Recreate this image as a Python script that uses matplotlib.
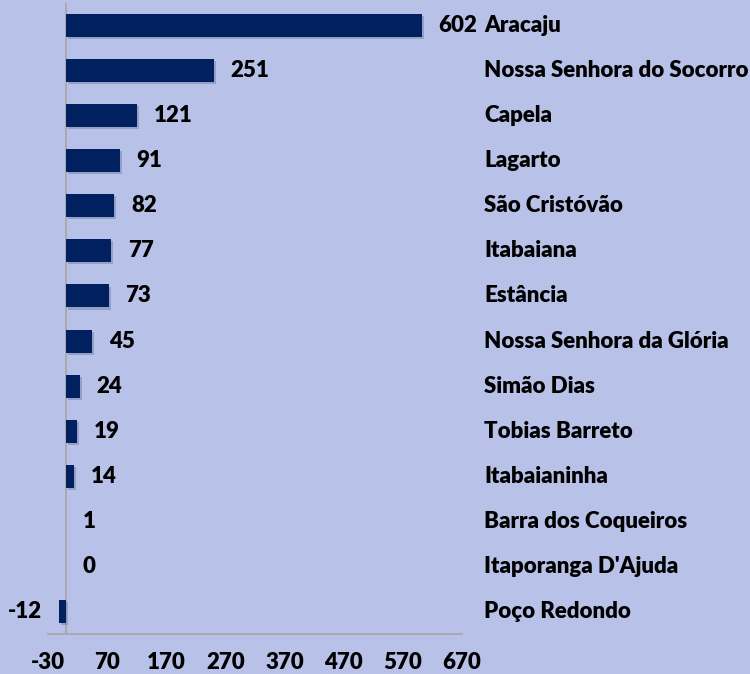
import matplotlib
matplotlib.use("Agg")
import matplotlib.pyplot as plt
import matplotlib.patheffects as pe

categories = ["Aracaju", "Nossa Senhora do Socorro", "Capela", "Lagarto", "São Cristóvão",
              "Itabaiana", "Estância", "Nossa Senhora da Glória", "Simão Dias", "Tobias Barreto",
              "Itabaianinha", "Barra dos Coqueiros", "Itaporanga D'Ajuda", "Poço Redondo"]
values = [602, 251, 121, 91, 82, 77, 73, 45, 24, 19, 14, 1, 0, -12]
xticks = [-30, 70, 170, 270, 370, 470, 570, 670]

bg = "#B8C2E8"
bar_color = "#002060"
axis_color = "#A6A6A6"
font = ["Lato", "DejaVu Sans"]
fs = 16
fw = 800

fig = plt.figure(figsize=(7.5, 6.74), dpi=100, facecolor=bg)
W, H = 750, 674
ax = fig.add_axes([48 / W, 1 - 634 / H, (462 - 48) / W, (634 - 3) / H])
ax.set_facecolor(bg)

n = len(categories)
ypos = list(range(n))
bars = ax.barh(ypos, values, height=0.51, color=bar_color, zorder=3)
for b in bars:
    b.set_path_effects([pe.SimplePatchShadow(offset=(1.5, -1.5), shadow_rgbFace="#7F8AB0", alpha=0.6), pe.Normal()])

ax.set_xlim(-30, 670)
ax.set_ylim(n - 0.5, -0.5)
ax.set_xticks(xticks)
ax.set_xticklabels([str(t) for t in xticks], fontfamily=font, fontweight=fw, fontsize=fs)
ax.tick_params(axis="x", length=0, pad=13)
ax.set_yticks([])
for s in ["top", "right", "left"]:
    ax.spines[s].set_visible(False)
ax.spines["bottom"].set_color(axis_color)
ax.spines["bottom"].set_linewidth(1.2)
ax.axvline(0, color=axis_color, lw=1.2, zorder=2)

for y, v, c in zip(ypos, values, categories):
    if v >= 0:
        ax.annotate(str(v), (v, y), xytext=(12, 0), textcoords="offset points",
                    ha="left", va="center", fontfamily=font, fontweight=fw, fontsize=fs)
    else:
        ax.annotate(str(v), (v, y), xytext=(-12, 0), textcoords="offset points",
                    ha="right", va="center", fontfamily=font, fontweight=fw, fontsize=fs)
    ax.annotate(c, (1, y), xycoords=("axes fraction", "data"), xytext=(16, 0),
                textcoords="offset points", ha="left", va="center",
                fontfamily=font, fontweight=fw, fontsize=fs, annotation_clip=False)

fig.savefig("out.png", dpi=100, facecolor=bg)
